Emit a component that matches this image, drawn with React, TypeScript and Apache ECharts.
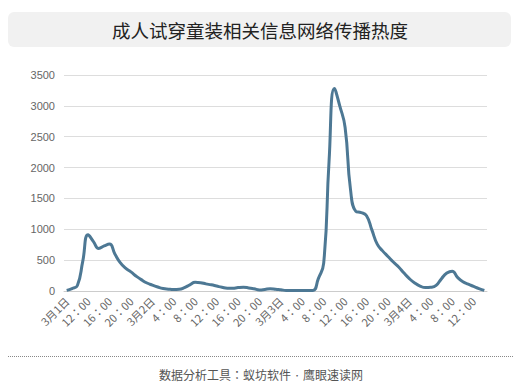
import React, { useEffect, useRef } from "react";
import * as echarts from "echarts";

const titleText = "成人试穿童装相关信息网络传播热度";
const footerText = "数据分析工具：蚁坊软件 · 鹰眼速读网";

const categories = [
  "3月1日", "9：00", "10：00", "11：00", "12：00", "13：00", "14：00", "15：00",
  "16：00", "17：00", "18：00", "19：00", "20：00", "21：00", "22：00", "23：00",
  "3月2日", "1：00", "2：00", "3：00", "4：00", "5：00", "6：00", "7：00",
  "8：00", "9：00", "10：00", "11：00", "12：00", "13：00", "14：00", "15：00",
  "16：00", "17：00", "18：00", "19：00", "20：00", "21：00", "22：00", "23：00",
  "3月3日", "1：00", "2：00", "3：00", "4：00", "5：00", "6：00", "7：00",
  "8：00", "9：00", "10：00", "11：00", "12：00", "13：00", "14：00", "15：00",
  "16：00", "17：00", "18：00", "19：00", "20：00", "21：00", "22：00", "23：00",
  "3月4日", "1：00", "2：00", "3：00", "4：00", "5：00", "6：00", "7：00",
  "8：00", "9：00", "10：00", "11：00", "12：00", "13：00", "14：00",
];

const heatValues = [
  10, 40, 90, 480, 910, 800, 690, 730, 760, 600, 460, 370, 310, 240, 180, 130,
  95, 65, 40, 30, 25, 28, 55, 100, 140, 135, 115, 100, 80, 60, 45, 45,
  55, 60, 50, 35, 18, 25, 37, 30,
  20, 10, 10, 10, 10, 10, 10, 200, 450, 2100, 3280, 3000, 2650, 1650, 1290, 1270,
  1220, 990, 760, 650, 560, 470, 390, 290,
  200, 130, 80, 55, 60, 90, 200, 290, 320, 220, 150, 110, 75, 40, 10,
];

const yTicks = [0, 500, 1000, 1500, 2000, 2500, 3000, 3500];

export default function App() {
  const ref = useRef<HTMLDivElement>(null);
  useEffect(() => {
    if (!ref.current) return;
    const chart = echarts.init(ref.current, null, { renderer: "svg" });
    chart.setOption({
      animation: false,
      backgroundColor: "#ffffff",
      graphic: [
        {
          type: "rect",
          shape: { x: 8, y: 12, width: 503, height: 35, r: 6 },
          style: { fill: "#f1f1f1" },
          z: 0,
        },
        {
          type: "text",
          x: 260,
          y: 29.5,
          style: {
            text: titleText,
            fill: "#222222",
            font: '18.5px "Noto Sans CJK SC", sans-serif',
            align: "center",
            verticalAlign: "middle",
          },
          z: 2,
        },
        {
          type: "line",
          shape: { x1: 8, y1: 356.5, x2: 513, y2: 356.5 },
          style: { stroke: "#888888", lineWidth: 1, lineDash: [1, 1] },
        },
        {
          type: "text",
          x: 261,
          y: 374,
          style: {
            text: footerText,
            fill: "#555555",
            font: '12px "Noto Sans CJK JP", sans-serif',
            align: "center",
            verticalAlign: "middle",
          },
        },
      ],
      grid: { left: 64, right: 33, top: 75, bottom: 99, containLabel: false },
      xAxis: {
        type: "category",
        data: categories,
        boundaryGap: true,
        axisLine: { lineStyle: { color: "#cccccc" } },
        axisTick: { show: false },
        axisLabel: {
          interval: 3,
          rotate: 45,
          color: "#666666",
          fontSize: 11,
          margin: 8,
          fontFamily: '"Noto Sans CJK JP", sans-serif',
        },
      },
      yAxis: {
        type: "value",
        min: yTicks[0],
        max: yTicks[yTicks.length - 1],
        interval: 500,
        axisLine: { show: false },
        axisTick: { show: false },
        splitLine: { lineStyle: { color: "#dddddd" } },
        axisLabel: {
          color: "#666666",
          fontSize: 11,
          margin: 9,
          fontFamily: '"Liberation Sans", Arial, sans-serif',
          formatter: (v: number) => String(v),
        },
      },
      series: [
        {
          type: "line",
          data: heatValues,
          smooth: true,
          symbol: "none",
          lineStyle: { color: "#4d7894", width: 3 },
          itemStyle: { color: "#4d7894" },
        },
      ],
    });
    return () => chart.dispose();
  }, []);
  return (
    <div
      style={{
        position: "fixed",
        left: 0,
        top: 0,
        width: 520,
        height: 390,
        boxSizing: "border-box",
        border: "1px solid #dddddd",
        background: "#fff",
      }}
    >
      <div ref={ref} style={{ position: "absolute", left: -1, top: -1, width: 520, height: 390 }} />
    </div>
  );
}
